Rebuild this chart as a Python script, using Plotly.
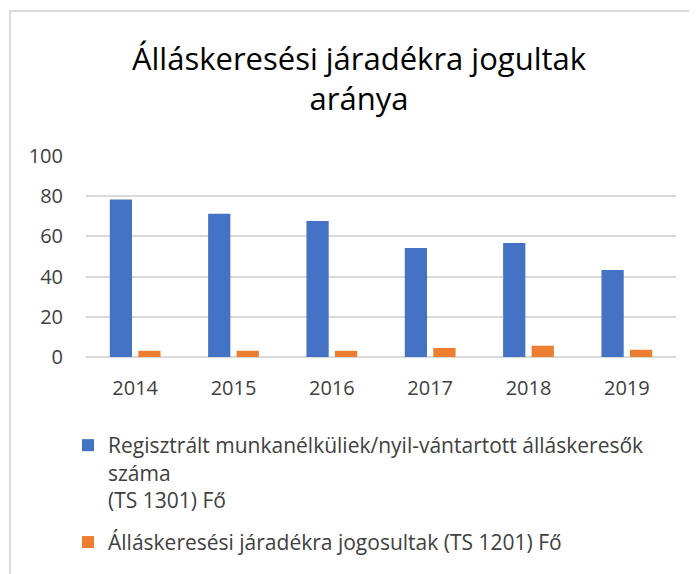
import plotly.graph_objects as go

years = ["2014", "2015", "2016", "2017", "2018", "2019"]
registered = [78.3, 71.3, 67.7, 54.2, 56.7, 43.3]
entitled = [3.1, 3.1, 3.1, 4.5, 5.6, 3.6]
name_registered = "Regisztrált munkanélküliek/nyil-vántartott álláskeresők<br>száma<br>(TS 1301) Fő"
name_entitled = "Álláskeresési járadékra jogosultak (TS 1201) Fő"
title_text = "Álláskeresési járadékra jogultak<br>aránya"
y_ticks = [0, 20, 40, 60, 80, 100]

# page has an 8px body margin, so the figure is drawn 8px right/down
OFF = 8
W, H = 697 - OFF, 574 - OFF
ML = 86 - OFF
MR = W - (676 - OFF)
MT = 156 - OFF
MB = H - (357 - OFF)
PW = W - ML - MR
PH = H - MT - MB

FONT = "Open Sans"
TXT = "#404040"


def px_x(p):  # reference-image pixel -> paper x
    return (p - OFF - ML) / PW


def px_y(p):  # reference-image pixel -> paper y
    return (H - MB - (p - OFF)) / PH


fig = go.Figure()
fig.add_trace(go.Bar(x=years, y=registered, name=name_registered, legendgroup="a",
                     marker=dict(color="#4472C4", line=dict(width=0))))
fig.add_trace(go.Bar(x=years, y=entitled, name=name_entitled, legendgroup="b",
                     marker=dict(color="#ED7D31", line=dict(width=0))))

fig.update_layout(
    width=W, height=H,
    margin=dict(l=ML, r=MR, t=MT, b=MB, autoexpand=False),
    paper_bgcolor="white", plot_bgcolor="white",
    font=dict(family=FONT, color=TXT, size=20),
    barmode="group", bargap=0.42, bargroupgap=0.22,
    title=dict(text=title_text, x=px_x(359), xref="paper", xanchor="center",
               y=1 - (70 - OFF) / H, yanchor="top",
               font=dict(family=FONT, size=31, color="#000000")),
    xaxis=dict(showgrid=False, showline=False, zeroline=False,
               ticks="outside", ticklen=13, tickcolor="rgba(0,0,0,0)",
               tickfont=dict(size=20, color=TXT)),
    yaxis=dict(range=[0, 100], tickvals=y_ticks, showgrid=True,
               gridcolor="#d9d9d9", gridwidth=1.5, zeroline=True,
               zerolinecolor="#d9d9d9", zerolinewidth=1.5, showline=False,
               ticks="outside", ticklen=18, tickcolor="rgba(0,0,0,0)",
               tickfont=dict(size=20, color=TXT)),
    showlegend=True,
    legend=dict(x=px_x(68), xanchor="left", y=px_y(425), yanchor="top",
                valign="top", font=dict(size=21, color=TXT), tracegroupgap=12,
                bgcolor="rgba(0,0,0,0)"),
    shapes=[dict(type="rect", xref="paper", yref="paper",
                 x0=px_x(10), x1=px_x(760), y0=px_y(640), y1=px_y(11),
                 line=dict(color="#d9d9d9", width=2), fillcolor="rgba(0,0,0,0)",
                 layer="below")],
)

fig.write_html("out.html")
